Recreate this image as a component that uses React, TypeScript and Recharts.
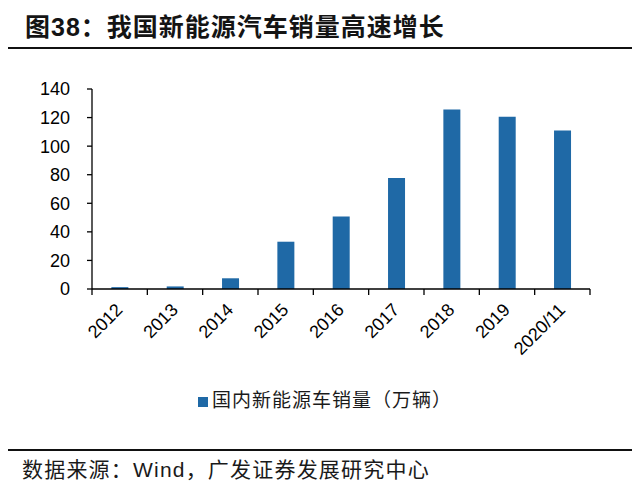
import React from 'react';
import { BarChart, Bar, XAxis, YAxis, Legend } from 'recharts';

const categories = ['2012', '2013', '2014', '2015', '2016', '2017', '2018', '2019', '2020/11'];
const salesValues = [1.3, 1.8, 7.5, 33.1, 50.7, 77.7, 125.6, 120.6, 110.9];
const yTicks = [0, 20, 40, 60, 80, 100, 120, 140];

const seriesName = '国内新能源车销量（万辆）';
const BAR_COLOR = '#1f69a6';
const FONT = "'Liberation Sans', Arial, 'Noto Sans CJK SC', sans-serif";

const CHART_W = 640;
const CHART_H = 496;
const Y_AXIS_W = 92;
const MARGIN_RIGHT = 50;
const PLOT_W = CHART_W - Y_AXIS_W - MARGIN_RIGHT;
const STEP = PLOT_W / categories.length;

const data = categories.map((c, i) => ({ name: c, sales: salesValues[i] }));

const XTick = (props: any) => {
  const { x, y, payload, index } = props;
  const tx = x + 4;
  const ty = y + 22;
  const left = x - STEP / 2;
  return (
    <g>
      <line x1={left} y1={y} x2={left} y2={y + 6} stroke="#000" strokeWidth={1.3} />
      {index === categories.length - 1 && (
        <line x1={x + STEP / 2} y1={y} x2={x + STEP / 2} y2={y + 6} stroke="#000" strokeWidth={1.3} />
      )}
      <text
        x={tx}
        y={ty}
        textAnchor="end"
        transform={`rotate(-45, ${tx}, ${ty})`}
        fontSize={18}
        fontFamily={FONT}
        fill="#000"
      >
        {payload.value}
      </text>
    </g>
  );
};

const App = () => {
  return (
    <div
      style={{
        position: 'absolute',
        left: 0,
        top: 0,
        width: CHART_W,
        height: CHART_H,
        background: '#fff',
        fontFamily: FONT,
        overflow: 'hidden',
      }}
    >
      <div
        style={{
          position: 'absolute',
          left: 25,
          top: 14,
          fontSize: 25,
          lineHeight: '27px',
          letterSpacing: 1,
          fontWeight: 700,
          color: '#141414',
          whiteSpace: 'nowrap',
        }}
      >
        图38：我国新能源汽车销量高速增长
      </div>
      <div style={{ position: 'absolute', left: 8, top: 47, width: 624, height: 2, background: '#111' }} />

      <div style={{ position: 'absolute', left: 0, top: 0 }}>
        <BarChart
          width={CHART_W}
          height={CHART_H}
          data={data}
          margin={{ top: 89, right: MARGIN_RIGHT, left: 0, bottom: 83 }}
          barCategoryGap="35%"
        >
          <XAxis
            dataKey="name"
            height={100}
            interval={0}
            tickLine={false}
            tickSize={0}
            tickMargin={0}
            axisLine={{ stroke: '#000', strokeWidth: 1.3 }}
            tick={<XTick />}
          />
          <YAxis
            width={Y_AXIS_W}
            domain={[0, 140]}
            ticks={yTicks}
            interval={0}
            tickSize={5}
            tickMargin={17}
            axisLine={{ stroke: '#000', strokeWidth: 1.3 }}
            tickLine={{ stroke: '#000', strokeWidth: 1.3 }}
            tick={{ fill: '#000', fontSize: 18, fontFamily: FONT }}
          />
          <Legend
            verticalAlign="bottom"
            align="center"
            iconType="square"
            iconSize={10}
            wrapperStyle={{
              left: 10,
              top: 389,
              width: CHART_W,
              lineHeight: '24px',
              fontSize: 19,
              letterSpacing: 1,
              fontFamily: FONT,
            }}
            formatter={(value: string) => <span style={{ color: '#1a1a1a' }}>{value}</span>}
          />
          <Bar dataKey="sales" name={seriesName} fill={BAR_COLOR} isAnimationActive={false} />
        </BarChart>
      </div>

      <div style={{ position: 'absolute', left: 8, top: 449, width: 624, height: 2, background: '#111' }} />
      <div
        style={{
          position: 'absolute',
          left: 22,
          top: 458,
          fontSize: 21,
          lineHeight: '24px',
          letterSpacing: 1.2,
          color: '#1a1a1a',
          whiteSpace: 'nowrap',
        }}
      >
        数据来源：Wind，广发证券发展研究中心
      </div>
    </div>
  );
};

export default App;
